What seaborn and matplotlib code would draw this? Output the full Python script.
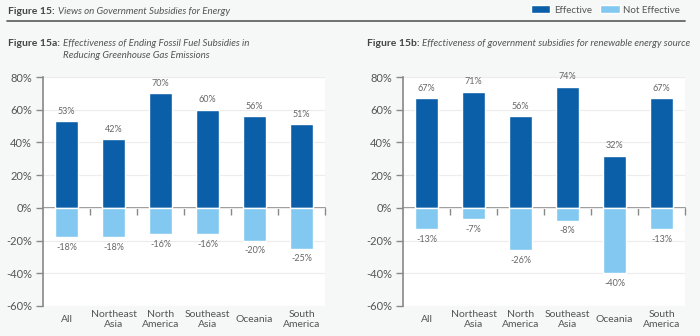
import matplotlib
matplotlib.use("Agg")
import matplotlib.pyplot as plt
import seaborn as sns
import pandas as pd
from matplotlib.patches import Patch

categories = ["All", "Northeast\nAsia", "North\nAmerica", "Southeast\nAsia", "Oceania", "South\nAmerica"]
left_effective = [53, 42, 70, 60, 56, 51]
left_not_effective = [-18, -18, -16, -16, -20, -25]
right_effective = [67, 71, 56, 74, 32, 67]
right_not_effective = [-13, -7, -26, -8, -40, -13]
series_names = ["Effective", "Not Effective"]
y_ticks = [-60, -40, -20, 0, 20, 40, 60, 80]

DARK = "#0b5fa9"
LIGHT = "#82c8f0"
BG = "#f6f7f7"
TXT = "#555555"

sns.set_theme(style="white")
plt.rcParams["font.family"] = ["Lato", "DejaVu Sans"]

fig = plt.figure(figsize=(7, 3.36), dpi=100, facecolor=BG)

def make_df(eff, neg):
    return pd.DataFrame({
        "region": categories * 2,
        "value": list(eff) + list(neg),
        "type": [series_names[0]] * len(categories) + [series_names[1]] * len(categories),
    })

def draw(ax, eff, neg):
    df = make_df(eff, neg)
    sns.barplot(data=df, x="region", y="value", hue="type", order=categories,
                hue_order=series_names, palette=[DARK, LIGHT], dodge=False,
                width=0.5, legend=False, ax=ax, saturation=1)
    ax.set_facecolor("white")
    ax.set_xlim(-0.5, len(categories) - 0.5)
    ax.set_ylim(-60, 80)
    ax.set_yticks(y_ticks)
    ax.set_yticklabels([f"{t}%" for t in y_ticks], fontsize=8, color=TXT)
    ax.set_xticks(range(len(categories)))
    ax.set_xticklabels(categories, fontsize=7.5, color=TXT, linespacing=1.15)
    for lab in ax.get_xticklabels():
        lab.set_verticalalignment("center")
    ax.tick_params(axis="x", length=0, pad=10)
    ax.tick_params(axis="y", length=5, width=1, color="#888888", direction="out", left=True, pad=3)
    ax.set_xlabel("")
    ax.set_ylabel("")
    ax.grid(axis="y", color="#ececec", linewidth=0.8)
    ax.set_axisbelow(True)
    for s in ["top", "right", "bottom"]:
        ax.spines[s].set_visible(False)
    ax.spines["left"].set_color("#888888")
    ax.spines["left"].set_linewidth(1.2)
    # zero axis with boundary ticks
    sec = ax.secondary_xaxis(60 / 140)
    sec.set_xticks([i + 0.5 for i in range(len(categories))])
    sec.set_xticklabels([])
    sec.tick_params(axis="x", length=5, width=1, color="#888888", direction="out")
    sec.spines["bottom"].set_color("#888888")
    sec.spines["bottom"].set_linewidth(1.2)
    for i, v in enumerate(eff):
        ax.annotate(f"{v}%", (i, v), xytext=(0, 4), textcoords="offset points",
                    ha="center", va="bottom", fontsize=6.5, color="#666666")
    for i, v in enumerate(neg):
        ax.annotate(f"{v}%", (i, v), xytext=(0, -4), textcoords="offset points",
                    ha="center", va="top", fontsize=6.5, color="#666666")

ax1 = fig.add_axes([43 / 700, 30 / 336, 282 / 700, 229 / 336])
ax2 = fig.add_axes([403 / 700, 30 / 336, 282 / 700, 229 / 336])
draw(ax1, left_effective, left_not_effective)
draw(ax2, right_effective, right_not_effective)

renderer = fig.canvas.get_renderer()

def header(x_px, y_px, bold, italic_lines, bsize=7.5, isize=7.0):
    b = fig.text(x_px / 700, 1 - y_px / 336, bold, fontsize=bsize, fontweight="bold",
                 color="#444444", va="center")
    bb = b.get_window_extent(renderer)
    x2 = bb.x1 / 700 + 3 / 700
    for k, line in enumerate(italic_lines):
        fig.text(x2, 1 - (y_px + 13 * k) / 336, line, fontsize=isize, style="italic",
                 color="#555555", va="center")

header(8, 11, "Figure 15:", ["Views on Government Subsidies for Energy"])
fig.add_artist(plt.Line2D([7 / 700, 685 / 700], [1 - 21 / 336, 1 - 21 / 336],
                          color="#666666", linewidth=1.3, transform=fig.transFigure))
header(8, 43, "Figure 15a:", ["Effectiveness of Ending Fossil Fuel Subsidies in",
                              "Reducing Greenhouse Gas Emissions"])
header(367, 43, "Figure 15b:", ["Effectiveness of government subsidies for renewable energy source"])

handles = [Patch(facecolor=DARK, label=series_names[0]), Patch(facecolor=LIGHT, label=series_names[1])]
leg = fig.legend(handles=handles, loc="center right", bbox_to_anchor=(685 / 700, 1 - 10 / 336),
                 ncol=2, frameon=False, fontsize=7, handlelength=2.0, handleheight=0.9,
                 columnspacing=0.9, handletextpad=0.35, borderpad=0)
for t in leg.get_texts():
    t.set_color("#555555")

fig.savefig("out.png", dpi=100, facecolor=BG)
